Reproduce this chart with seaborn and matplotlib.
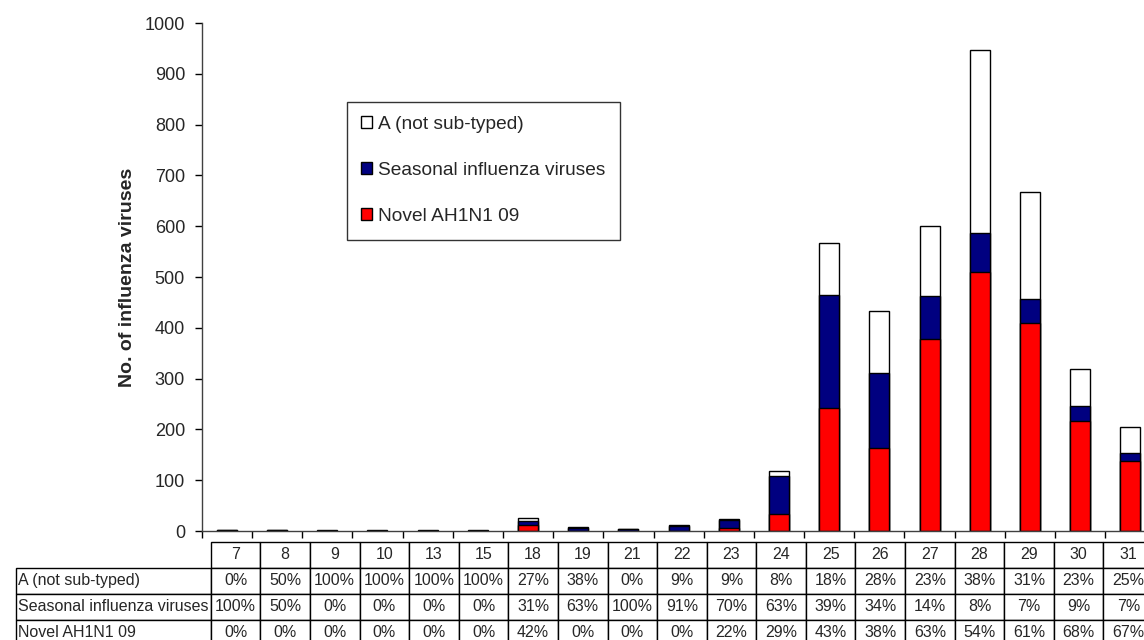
#!/usr/bin/env python3

import pandas as pd
import matplotlib.pyplot as plt
import seaborn as sns
from matplotlib.patches import Patch

weeks = ['7', '8', '9', '10', '13', '15', '18', '19', '21', '22', '23',
         '24', '25', '26', '27', '28', '29', '30', '31']

# counts per week
novel = [0, 0, 0, 0, 0, 0, 11, 0, 0, 0, 5,
         34, 243, 164, 378, 510, 409, 217, 138]
seasonal = [1, 1, 0, 0, 0, 0, 8, 5, 4, 10, 16,
            75, 221, 148, 84, 76, 48, 29, 15]
not_subtyped = [0, 1, 1, 1, 1, 1, 7, 3, 0, 1, 2,
                10, 102, 122, 138, 360, 210, 73, 52]

# percentage table as printed under the chart
pct_a = ['0%', '50%', '100%', '100%', '100%', '100%', '27%', '38%', '0%', '9%',
         '9%', '8%', '18%', '28%', '23%', '38%', '31%', '23%', '25%']
pct_seasonal = ['100%', '50%', '0%', '0%', '0%', '0%', '31%', '63%', '100%',
                '91%', '70%', '63%', '39%', '34%', '14%', '8%', '7%', '9%', '7%']
pct_novel = ['0%', '0%', '0%', '0%', '0%', '0%', '42%', '0%', '0%', '0%', '22%',
             '29%', '43%', '38%', '63%', '54%', '61%', '68%', '67%']

series_names = ['A (not sub-typed)', 'Seasonal influenza viruses', 'Novel AH1N1 09']
colors = ['#FFFFFF', '#000080', '#FF0000']


def main():
    df = pd.DataFrame({'week': weeks, 'novel': novel,
                       'seasonal': seasonal, 'a': not_subtyped})
    df['ns'] = df['novel'] + df['seasonal']
    df['total'] = df['ns'] + df['a']

    sns.set_style("white")
    plt.rcParams['font.family'] = ['Liberation Sans', 'DejaVu Sans']

    W, H = 1144, 640
    fig = plt.figure(figsize=(W / 100, H / 100), dpi=100)
    # plot area in pixels: left 201.7, 50.2 px per week, y from 23 to 531
    ax_w = 50.2 * len(weeks)
    ax = fig.add_axes([201.7 / W, 1 - 531 / H, ax_w / W, 508 / H])

    # stacked bars drawn as cumulative layers
    for col, color in zip(['total', 'ns', 'novel'], colors):
        sns.barplot(x='week', y=col, data=df, order=weeks, color=color,
                    saturation=1, width=0.4, edgecolor='black',
                    linewidth=1, ax=ax)

    ax.set_xlim(-0.5, len(weeks) - 0.5)
    ax.set_ylim(0, 1000)
    ax.set_yticks(range(0, 1001, 100))
    ax.set_xticks([])
    ax.set_xticks([i - 0.5 for i in range(len(weeks) + 1)], minor=True)
    ax.tick_params(axis='x', which='minor', direction='out', length=5,
                   width=1, color='black', bottom=True, labelbottom=False)
    ax.tick_params(axis='y', direction='out', length=5, width=1, pad=7,
                   color='black', left=True, labelsize=13)
    ax.set_xlabel('')
    ax.set_ylabel('No. of influenza viruses', fontsize=14,
                  fontweight='bold', labelpad=6)
    for side in ['top', 'right']:
        ax.spines[side].set_visible(False)
    for side in ['left', 'bottom']:
        ax.spines[side].set_color('#404040')
        ax.spines[side].set_linewidth(1)

    handles = [Patch(facecolor=c, edgecolor='black', linewidth=1)
               for c in colors]
    leg = ax.legend(handles, series_names, loc='upper left',
                    bbox_to_anchor=((346.5 - 201.7) / ax_w, (531 - 101.5) / 508),
                    borderaxespad=0, fontsize=13.8, frameon=True,
                    fancybox=False, edgecolor='black', handlelength=0.6,
                    handleheight=0.6, handletextpad=0.3, labelspacing=1.52,
                    borderpad=0.75)
    leg.get_frame().set_linewidth(1)

    # data table in its own axes: the axes bottom is the table top,
    # the week columns span the axes width, row labels hang to the left
    grid_left, col_w, row_h = 210.7, 49.6, 26
    grid_w = col_w * len(weeks)
    tax = fig.add_axes([grid_left / W, 1 - 541.7 / H, grid_w / W, 4 * row_h / H])
    tax.axis('off')
    tbl = tax.table(cellText=[pct_a, pct_seasonal, pct_novel],
                    rowLabels=series_names, colLabels=weeks,
                    cellLoc='center', rowLoc='left', loc='bottom')
    tbl.auto_set_font_size(False)
    tbl.set_fontsize(11.5)
    for (r, c), cell in tbl.get_celld().items():
        cell.set_linewidth(1)
        cell.set_edgecolor('black')
        cell.set_height(1 / 4)
        if c == -1:
            cell.set_width(199 / grid_w)
        else:
            cell.set_width(1 / len(weeks))
        cell.PAD = 0.01

    fig.savefig('out.png', dpi=100)


if __name__ == "__main__":
    main()
